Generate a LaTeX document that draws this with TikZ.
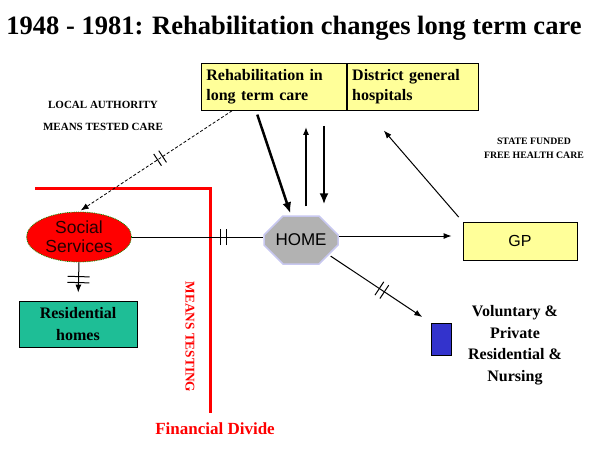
\documentclass[tikz,border=0pt]{standalone}
\usepackage{fontspec}
\setmainfont{Liberation Serif}
\setsansfont{Liberation Sans}
\usetikzlibrary{arrows.meta,positioning,shapes.geometric,shapes.misc,decorations.markings}
\definecolor{paleyellow}{RGB}{255,255,153}
\definecolor{resgreen}{RGB}{30,190,150}
\definecolor{volblue}{RGB}{51,51,204}
\definecolor{homegrey}{RGB}{178,178,178}
\definecolor{lavender}{RGB}{200,200,240}

\begin{document}
\begin{tikzpicture}[x=1pt,y=-1pt,
  yellowbox/.style={rectangle, draw, thick, fill=paleyellow, minimum height=47pt, text width=#1, align=left, inner xsep=5pt, font=\bfseries\fontsize{16}{20}\selectfont},
  tinylabel/.style 2 args={align=center, font=\bfseries\fontsize{#1}{#2}\selectfont},
  bodytext/.style={align=center, font=\bfseries\fontsize{16}{21.5}\selectfont},
  redtext/.style={text=red, font=\bfseries\fontsize{#1}{14}\selectfont},
  arrow/.style={-{Latex[length=8pt,width=6pt]}, line width=1pt},
  bigarrow/.style={-{Latex[length=11pt,width=9pt]}, line width=2.5pt},
  crossed/.style 2 args={postaction={decorate, decoration={markings, mark=at position #1 with {\draw[-, solid, line width=1pt, shorten >=0pt, shorten <=0pt] (-3pt,-#2) -- (-3pt,#2) (3pt,-#2) -- (3pt,#2);}}}},
  divider/.style={red, line width=3pt}
]
\useasboundingbox (0,0) rectangle (600,448);

% title
\node[font=\bfseries\fontsize{26.5}{30}\selectfont] (title) at (294,28) {1948 - 1981: Rehabilitation changes long term care};

% top boxes
\node[yellowbox=135pt, anchor=north west] (rehab) at (201,63) {Rehabilitation in\\long term care};
\node[yellowbox=121pt, right=0pt of rehab] (dgh) {District general\\hospitals};

% side labels
\node[tinylabel={11}{22}] (la) at (103,116) {LOCAL AUTHORITY\\MEANS TESTED CARE};
\node[tinylabel={9.8}{14}] (statefunded) at (534,148) {STATE FUNDED\\FREE HEALTH CARE};

% financial divide
\draw[divider] (35,188) -| (210,413);
\node[redtext=13.3, rotate=-90] (meanstest) at (190,337) {MEANS TESTING};
\node[redtext=17] (divide) at (215,429) {Financial Divide};

% main nodes
\node[ellipse, fill=red, draw=green!60!black, densely dotted, thick, minimum width=105pt, minimum height=50pt,
  align=center, inner sep=0pt, text=black!85!red, font=\sffamily\fontsize{17.5}{19}\selectfont] (social) at (79,237) {Social\\Services};
\node[rectangle, draw, thick, fill=resgreen, minimum width=118pt, minimum height=46pt, bodytext] (reshomes) at (78,324) {Residential\\homes};
\node[chamfered rectangle, chamfered rectangle xsep=12pt, chamfered rectangle ysep=12pt, fill=homegrey, draw=lavender, line width=1.5pt,
  minimum width=74pt, minimum height=48pt, inner sep=1pt, font=\sffamily\fontsize{17}{19}\selectfont] (home) at (301,240) {HOME};
\node[rectangle, draw, thick, fill=paleyellow, minimum width=114pt, minimum height=38pt, font=\sffamily\fontsize{16}{18}\selectfont] (gp) at (520,241) {GP};
\node[rectangle, draw, thick, fill=volblue, minimum width=20pt, minimum height=32pt, inner sep=0pt] (vol) at (441,339) {};
\node[bodytext] (voltext) at (515,345) {Voluntary \&\\Private\\Residential \&\\Nursing};

% connectors
\draw[arrow, line width=0.8pt, densely dashed, crossed={0.47}{7pt}, shorten >=2pt] ([xshift=31pt]rehab.south west) -- (social.north);
\draw[bigarrow, shorten <=4pt, shorten >=2pt] ([xshift=55pt]rehab.south west) -- ([xshift=-10pt]home.north);
\draw[arrow, line width=2pt, shorten <=9pt, shorten >=16pt] ([xshift=5pt]home.north) -- ([xshift=5pt]home.north |- rehab.south);
\draw[arrow, line width=2pt, -{Latex[length=11pt,width=9pt]}, shorten <=15pt, shorten >=11pt] ([xshift=23pt]home.north |- rehab.south) -- ([xshift=23pt]home.north);
\draw[arrow, shorten <=6pt, shorten >=26pt] (gp.north west) -- ([xshift=20pt]dgh.south west);
\draw[arrow, shorten >=11pt] ([yshift=4pt]home.east) -- ([yshift=4pt]home.east -| gp.west);
\draw[line width=1pt, crossed={0.7}{8pt}] (social.east) -- (social.east -| home.west);
\draw[arrow, crossed={0.45}{11pt}, shorten >=8pt] (social.south) -- (reshomes.north);
\draw[arrow, crossed={0.52}{8pt}, shorten <=2pt, shorten >=10pt] (home.south east) -- (vol.north west);
\end{tikzpicture}
\end{document}
